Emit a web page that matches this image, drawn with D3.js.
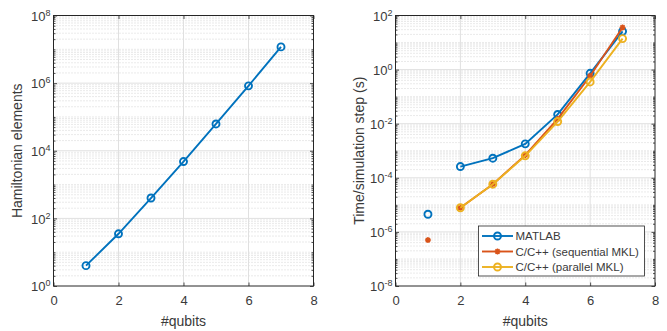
<!DOCTYPE html>
<html>
<head>
<meta charset="utf-8">
<script src="https://cdn.jsdelivr.net/npm/d3@7"></script>
<style>
  body { margin: 0; background: #fff; }
  svg { display: block; font-family: "Liberation Sans", Arial, sans-serif; }
</style>
</head>
<body>
<svg id="chart" width="667" height="331"></svg>
<script>
var qubits = [1, 2, 3, 4, 5, 6, 7];
var hamiltonianElements = [4, 35, 400, 4800, 62000, 830000, 1.18e7];
var timeMatlab = [4.5e-6, 2.6e-4, 5.3e-4, 1.8e-3, 0.022, 0.73, 26];
var timeSeqMKL = [5e-7, 7.8e-6, 5.8e-5, 6.9e-4, 0.015, 0.58, 36];
var timeParMKL = [null, 7.8e-6, 5.8e-5, 6.5e-4, 0.012, 0.35, 14];
var seriesNames = ['MATLAB', 'C/C++ (sequential MKL)', 'C/C++ (parallel MKL)'];
var xTicks = [0, 2, 4, 6, 8];
var leftExponents = [0, 2, 4, 6, 8];
var rightExponents = [-8, -6, -4, -2, 0, 2];
// the 1 qubit run was measured on its own, lines start at 2 qubits
var joinedFrom = 2;

var colors = ['#0072BD', '#D95319', '#EDB120'];
var axisColor = '#262626';
var textColor = '#3a3a3a';

var svg = d3.select('#chart');

function drawPanel(box, exps, yLabel) {
  var g = svg.append('g');
  var x = d3.scaleLinear().domain([0, 8]).range([box.left, box.right]);
  var y = d3.scaleLog()
    .domain([Math.pow(10, exps[0]), Math.pow(10, exps[exps.length - 1])])
    .range([box.bottom, box.top]);

  var majors = exps.map(function(e) { return Math.pow(10, e); });
  var minors = y.ticks(40).filter(function(v) {
    return majors.every(function(m) { return Math.abs(Math.log10(v / m)) > 1e-6; });
  });

  // minor grid (dotted)
  g.selectAll('line.minor-grid')
    .data(minors)
    .enter().append('line')
    .attr('class', 'minor-grid')
    .attr('x1', box.left).attr('x2', box.right)
    .attr('y1', function(d) { return y(d); })
    .attr('y2', function(d) { return y(d); })
    .style('stroke', '#b8b8b8')
    .style('stroke-width', 0.6)
    .style('stroke-dasharray', '1 2');

  // major grid
  g.selectAll('line.hgrid')
    .data(majors.slice(1, -1))
    .enter().append('line')
    .attr('x1', box.left).attr('x2', box.right)
    .attr('y1', function(d) { return y(d); })
    .attr('y2', function(d) { return y(d); })
    .style('stroke', '#e0e0e0')
    .style('stroke-width', 1);

  g.selectAll('line.vgrid')
    .data(xTicks.slice(1, -1))
    .enter().append('line')
    .attr('x1', function(d) { return x(d); })
    .attr('x2', function(d) { return x(d); })
    .attr('y1', box.top).attr('y2', box.bottom)
    .style('stroke', '#e0e0e0')
    .style('stroke-width', 1);

  // axes, ticks pointing inward on all four sides
  g.append('g')
    .attr('class', 'xaxis')
    .attr('transform', 'translate(0,' + box.bottom + ')')
    .call(d3.axisBottom(x).tickValues(xTicks).tickSize(-3.5).tickSizeOuter(0).tickPadding(10));
  g.append('g')
    .attr('transform', 'translate(0,' + box.top + ')')
    .call(d3.axisTop(x).tickValues(xTicks).tickSize(-3.5).tickSizeOuter(0).tickFormat(''));

  g.append('g')
    .attr('class', 'yaxis')
    .attr('transform', 'translate(' + box.left + ',0)')
    .call(d3.axisLeft(y).tickValues(majors).tickSize(-3.5).tickSizeOuter(0).tickPadding(3)
      .tickFormat(function() { return '10'; }));
  g.append('g')
    .attr('transform', 'translate(' + box.right + ',0)')
    .call(d3.axisRight(y).tickValues(majors).tickSize(-3.5).tickSizeOuter(0).tickFormat(''));
  g.append('g')
    .attr('transform', 'translate(' + box.left + ',0)')
    .call(d3.axisLeft(y).tickValues(minors).tickSize(-2).tickSizeOuter(0).tickFormat(''));
  g.append('g')
    .attr('transform', 'translate(' + box.right + ',0)')
    .call(d3.axisRight(y).tickValues(minors).tickSize(-2).tickSizeOuter(0).tickFormat(''));

  g.selectAll('path.domain').remove();
  g.selectAll('.tick line').style('stroke', axisColor).style('stroke-width', 0.8);

  g.selectAll('.xaxis text')
    .style('fill', textColor)
    .style('font-size', '13px')
    .style('font-family', '"Liberation Sans", Arial, sans-serif');

  g.selectAll('.yaxis text')
    .style('fill', textColor)
    .style('font-size', '13px')
    .style('font-family', '"Liberation Sans", Arial, sans-serif')
    .attr('dy', '0.36em')
    .each(function(d) {
      d3.select(this).append('tspan')
        .attr('dy', '-0.55em')
        .style('font-size', '9px')
        .text(Math.round(Math.log10(d)));
    });

  g.append('rect')
    .attr('x', box.left).attr('y', box.top)
    .attr('width', box.right - box.left)
    .attr('height', box.bottom - box.top)
    .style('fill', 'none')
    .style('stroke', axisColor)
    .style('stroke-width', 1);

  g.append('text')
    .attr('text-anchor', 'middle')
    .attr('x', (box.left + box.right) / 2)
    .attr('y', 326)
    .style('font-size', '14px')
    .style('fill', textColor)
    .text('#qubits');

  g.append('text')
    .attr('text-anchor', 'middle')
    .attr('transform', 'rotate(-90)')
    .attr('x', -(box.top + box.bottom) / 2)
    .attr('y', box.left - 31.5)
    .style('font-size', '14px')
    .style('fill', textColor)
    .text(yLabel);

  return {g: g, x: x, y: y};
}

function drawCircles(g, pts, color) {
  g.selectAll(null)
    .data(pts)
    .enter().append('circle')
    .attr('cx', function(d) { return d[0]; })
    .attr('cy', function(d) { return d[1]; })
    .attr('r', 3.5)
    .style('fill', 'none')
    .style('stroke', color)
    .style('stroke-width', 1.9);
}

function starPath(s) {
  var k = s * 0.7;
  return 'M' + (-s) + ',0H' + s + 'M0,' + (-s) + 'V' + s +
    'M' + (-k) + ',' + (-k) + 'L' + k + ',' + k +
    'M' + (-k) + ',' + k + 'L' + k + ',' + (-k);
}

function drawStars(g, pts, color) {
  g.selectAll(null)
    .data(pts)
    .enter().append('path')
    .attr('transform', function(d) { return 'translate(' + d[0] + ',' + d[1] + ')'; })
    .attr('d', starPath(3))
    .style('fill', 'none')
    .style('stroke', color)
    .style('stroke-width', 1.5);
}

// ---- left: Hamiltonian elements
var left = drawPanel({left: 53.5, right: 313.5, top: 15.5, bottom: 286}, leftExponents, 'Hamiltonian elements');
var leftPts = qubits.map(function(q, i) { return [left.x(q), left.y(hamiltonianElements[i])]; });
left.g.append('path')
  .attr('d', d3.line()(leftPts))
  .style('fill', 'none')
  .style('stroke', colors[0])
  .style('stroke-width', 1.9);
drawCircles(left.g, leftPts, colors[0]);

// ---- right: time per simulation step
var right = drawPanel({left: 395.5, right: 655, top: 15.5, bottom: 286}, rightExponents, 'Time/simulation step (s)');
var timeSeries = [timeMatlab, timeSeqMKL, timeParMKL];

timeSeries.forEach(function(vals, s) {
  var pts = [];
  qubits.forEach(function(q, i) {
    if (vals[i] != null) pts.push({q: q, p: [right.x(q), right.y(vals[i])]});
  });
  var joined = pts.filter(function(d) { return d.q >= joinedFrom; })
    .map(function(d) { return d.p; });
  right.g.append('path')
    .attr('d', d3.line()(joined))
    .style('fill', 'none')
    .style('stroke', colors[s])
    .style('stroke-width', 1.9);
  var marks = pts.map(function(d) { return d.p; });
  if (s === 1) drawStars(right.g, marks, colors[s]);
  else drawCircles(right.g, marks, colors[s]);
});

// legend, south-east corner of the right axes
var lg = right.g.append('g')
  .attr('transform', 'translate(' + (655 - 10.5 - 166) + ',' + (286 - 10 - 50) + ')');
lg.append('rect')
  .attr('width', 166).attr('height', 50)
  .style('fill', '#fff')
  .style('stroke', axisColor)
  .style('stroke-width', 0.8);

seriesNames.forEach(function(name, s) {
  var ly = 10 + s * 15.5;
  lg.append('line')
    .attr('x1', 3.5).attr('x2', 34.5)
    .attr('y1', ly).attr('y2', ly)
    .style('stroke', colors[s])
    .style('stroke-width', 1.9);
  if (s === 1) drawStars(lg, [[19, ly]], colors[s]);
  else drawCircles(lg, [[19, ly]], colors[s]);
  lg.append('text')
    .attr('x', 37)
    .attr('y', ly + 4.2)
    .style('font-size', '11.5px')
    .style('fill', textColor)
    .text(name);
});
</script>
</body>
</html>
